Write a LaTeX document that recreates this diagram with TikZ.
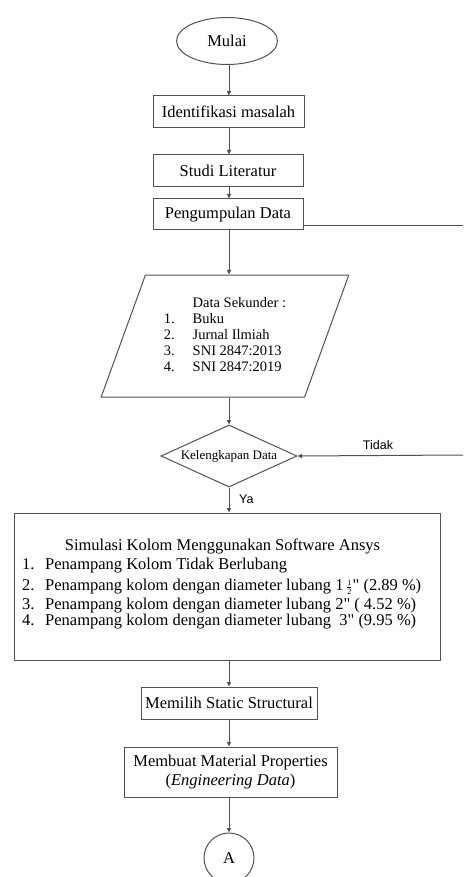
\documentclass[tikz,border=0pt]{standalone}
\usepackage{amsmath}
\usepackage{fontspec}
\setmainfont{Liberation Serif}
\newfontfamily\arialfont{Liberation Sans}
\usetikzlibrary{arrows.meta, shapes.geometric, positioning}
\colorlet{garis}{black!68}
\newcommand{\inci}{{\addfontfeature{Ligatures=TeXOff}"}}
\newcommand{\setengah}{$\genfrac{}{}{0.4pt}{2}{\mbox{\fontsize{8}{8}\selectfont 1}}{\mbox{\fontsize{8}{8}\selectfont 2}}$}
\tikzset{
  >={Triangle[length=4.5pt,width=4pt]},
  % Kotak diagram alir
  box/.style={draw=garis,line width=1pt,rectangle,inner sep=0pt,align=center,
    font=\fontsize{16.5}{19}\selectfont},
  box start/.style={box,ellipse},
  box data/.style={box,trapezium,trapezium left angle=67,trapezium right angle=113,
    trapezium stretches=true,font=\fontsize{14.5}{16}\selectfont},
  box decision/.style={box,diamond,aspect=2.2,font=\fontsize{13}{15}\selectfont},
  box connector/.style={box,circle},
  % Teks lepas
  txt/.style={inner sep=0pt,font=\fontsize{16.5}{15}\selectfont},
  note/.style={inner sep=0pt,font=\arialfont\fontsize{12.5}{14}\selectfont},
  % Panah
  connect arrow/.style={->,line width=1pt,garis}
}

\begin{document}
\begin{tikzpicture}[x=1pt,y=-1pt]
  \useasboundingbox (0,0) rectangle (463,877);
  \node[box start,minimum width=101pt,minimum height=47pt] (mulai) at (227,41) {Mulai};
  \node[box,minimum width=151pt,minimum height=32pt] (identifikasi) at (228.5,112) {Identifikasi masalah};
  \node[box,minimum width=150pt,minimum height=32pt] (studi) at (228,171) {Studi Literatur};
  \node[box,minimum width=150pt,minimum height=31pt] (pengumpulan) at (228,214.5) {Pengumpulan Data};
  \node[box data,minimum width=248pt,minimum height=122pt] (sekunder) at (225,336) {%
    \begin{tabular}{@{}l@{\hspace{18pt}}l@{}}
       & Data Sekunder :\\
    1. & Buku\\
    2. & Jurnal Ilmiah\\
    3. & SNI 2847:2013\\
    4. & SNI 2847:2019
    \end{tabular}};
  \node[box decision,minimum width=136pt,minimum height=62pt] (lengkap) at (229,456) {Kelengkapan Data};
  \node[box,minimum width=426pt,minimum height=147pt] (simulasi) at (227,586.5) {};
  \node[txt,anchor=base] (simjudul) at (222.5,550) {Simulasi Kolom Menggunakan Software Ansys};
  \node[txt,anchor=base west] (sim1) at (22,569) {\makebox[23pt][l]{1.}Penampang Kolom Tidak Berlubang};
  \node[txt,anchor=base west] (sim2) at (22,590) {\makebox[23pt][l]{2.}Penampang kolom dengan diameter lubang 1\,\setengah\inci{} (2.89 \%)};
  \node[txt,anchor=base west] (sim3) at (22,609) {\makebox[23pt][l]{3.}Penampang kolom dengan diameter lubang 2\inci{} ( 4.52 \%)};
  \node[txt,anchor=base west] (sim4) at (22,625.5) {\makebox[23pt][l]{4.}Penampang kolom dengan diameter lubang\ \ 3\inci{} (9.95 \%)};
  \node[box,minimum width=176pt,minimum height=32pt] (static) at (229,703) {Memilih Static Structural};
  \node[box,minimum width=213pt,minimum height=50pt] (material) at (230.5,772) {Membuat Material Properties\\(\textit{Engineering Data})};
  \node[box connector,minimum size=50pt] (konektorA) at (229,858) {A};
  \coordinate (ulangAtas) at (463,226);
  \coordinate (ulangBawah) at (463,455);

  \draw[connect arrow] (mulai.south -| lengkap.north) -- (identifikasi.north -| lengkap.north);
  \draw[connect arrow] (identifikasi.south -| lengkap.north) -- (studi.north -| lengkap.north);
  \draw[connect arrow] (studi.south -| lengkap.north) -- (pengumpulan.north -| lengkap.north);
  \draw[connect arrow] (pengumpulan.south -| lengkap.north) -- (sekunder.north -| lengkap.north);
  \draw[connect arrow] (sekunder.south -| lengkap.north) -- (lengkap);
  \draw[connect arrow] (lengkap) -- (simulasi.north -| lengkap.south);
  \draw[connect arrow] (simulasi.south -| static.north) -- (static);
  \draw[connect arrow] (static) -- (material.north -| static.south);
  \draw[connect arrow] (material.south -| konektorA.north) -- (konektorA);
  \draw[line width=1pt,garis] (pengumpulan.east |- ulangAtas) -- (ulangAtas);
  \draw[connect arrow] (ulangBawah) -- (lengkap.east);
  \node[note] (tidak) at (378,445) {Tidak};
  \node[note,anchor=west] (ya) at (239,499) {Ya};
\end{tikzpicture}
\end{document}
